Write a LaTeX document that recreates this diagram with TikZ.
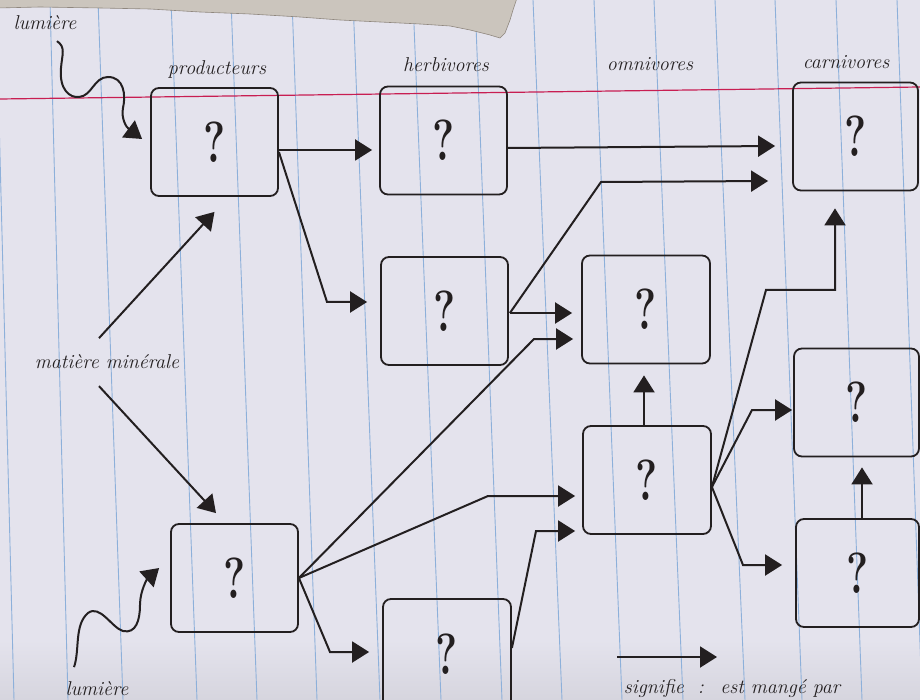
\documentclass[tikz,border=0pt]{standalone}
\usepackage{graphicx}
\usetikzlibrary{arrows.meta,calc}
\definecolor{paper}{HTML}{E4E3ED}
\definecolor{papershade}{HTML}{D6D5DE}
\definecolor{ink}{HTML}{231F20}
\definecolor{rulecol}{HTML}{8DB0DA}
\definecolor{margincol}{HTML}{C81E52}
\definecolor{torn}{HTML}{CBC5BD}
\definecolor{tornedge}{HTML}{8F877E}
\newcommand\qmark{\scalebox{0.72}[1]{\fontsize{58}{58}\selectfont\bfseries ?}}
\begin{document}
\begin{tikzpicture}[x=1pt,y=-1pt,
  box/.style={draw=ink, line width=1.8pt, rounded corners=8pt, minimum width=127pt,
    minimum height=108pt, inner sep=0pt, text=ink},
  arr/.style={draw=ink, line width=2pt, -{Triangle[length=17pt,width=21pt]}},
  lbl/.style={font=\fontsize{20}{24}\selectfont\itshape, text=ink, inner sep=0pt, anchor=base},
  rulestyle/.style={draw=rulecol, line width=0.9pt}]
\useasboundingbox (0,0) rectangle (920,700);
\clip (0,0) rectangle (920,700);
% paper
\fill[paper] (0,0) rectangle (920,700);
\shade[top color=paper, bottom color=papershade] (0,640) rectangle (920,700);
\foreach \a/\b in {-4/14,50/68,98/123,171/197,231/257,292/317,353/380,413/441,475/502,533/562,594/622,654/683,715/745,775/802,836/862,897/922}
  \draw[rulestyle] (\a,0) -- (\b,700);
\draw[margincol, line width=1.2pt] (0,99) -- (920,87);
% torn paper
\fill[torn, draw=tornedge, line width=0.6pt] (-2,-2) -- (-2,8) -- (40,7) -- (100,8) -- (150,9) -- (200,12) -- (250,14)
  -- (300,17) -- (340,20) -- (380,22) -- (420,24) -- (450,26) -- (470,30) -- (490,35) -- (500,38)
  -- (505,33) -- (510,20) -- (513,10) -- (517,-2) -- cycle;

% labels
\node[lbl] (lum1) at (45,30) {lumière};
\node[lbl] (prod) at (217,75) {producteurs};
\node[lbl] (herb) at (446,72) {herbivores};
\node[lbl] (omni) at (650,71) {omnivores};
\node[lbl] (carn) at (846,69) {carnivores};
\node[lbl] (mm) at (107,368) {matière minérale};
\node[lbl] (lum2) at (97,695) {lumière};
\node[lbl] (leg) at (732,693) {signifie \ : \ est mangé par};

% boxes
\node[box] (p1) at (214.5,142) {\qmark};
\node[box] (h1) at (443.5,140.5) {\qmark};
\node[box, minimum width=125pt] (c1) at (855.5,136.5) {\qmark};
\node[box] (h2) at (444.5,311) {\qmark};
\node[box, minimum width=128pt] (o1) at (646,309.5) {\qmark};
\node[box, minimum width=128pt] (o2) at (647,480) {\qmark};
\node[box, minimum width=125pt] (c2) at (856.5,402.5) {\qmark};
\node[box, minimum width=123pt] (c3) at (857.5,573) {\qmark};
\node[box] (p2) at (234.5,578) {\qmark};
\node[box, minimum width=128pt, minimum height=111pt] (h3) at (447,654.5) {\qmark};

% connectors
\draw[arr] ($(p1.east)+(0,8)$) -- ($(h1.west)+(-7,9.5)$);
\draw[arr] ($(p1.east)+(0,10)$) -- (327,302) -- ($(h2.west)+(-13,-9)$);
\draw[arr] ($(h1.east)+(0,7.5)$) -- ($(c1.west)+(-17,9.5)$);
\draw[arr] ($(h2.east)+(1,2)$) -- (601,182) -- ($(c1.west)+(-24,44.5)$);
\draw[arr] ($(h2.east)+(1,2)$) -- ($(o1.west)+(-9,3.5)$);
\draw[arr] (p2.east) -- (534,339) -- ($(o1.west)+(-8,29.5)$);
\draw[arr] (p2.east) -- (488,496) -- ($(o2.west)+(-7,16)$);
\draw[arr] (p2.east) -- (330,652) -- ($(h3.west)+(-13,-2.5)$);
\draw[arr] ($(h3.east)+(0,-6.5)$) -- (536,531) -- ($(o2.west)+(-7,51)$);
\draw[arr] ($(o2.north)+(-3,0)$) -- ($(o1.south)+(-2,11)$);
\draw[arr] ($(o2.east)+(0,7)$) -- (766,290) -- (835,290) -- ($(c1.south)+(-20.5,17)$);
\draw[arr] ($(o2.east)+(0,7)$) -- (752,410) -- ($(c2.west)+(-1,7.5)$);
\draw[arr] ($(o2.east)+(0,7)$) -- (743,565) -- ($(c3.west)+(-13,-8)$);
\draw[arr] ($(c3.north)+(4.5,0)$) -- ($(c2.south)+(5.5,10)$);
\draw[arr] ($(mm.center)+(-8,-23)$) -- ($(p1.south)+(0,15)$);
\draw[arr] ($(mm.center)+(-8,25)$) -- ($(p2.north)+(-18.5,-10)$);

% light (wavy) arrows
\draw[arr] ($(lum1.center)+(12,18)$) .. controls (66,47) and (62,55) .. (61,68)
  .. controls (59,90) and (70,98) .. (79,97)
  .. controls (92,96) and (94,77) .. (108,77)
  .. controls (124,77) and (126,95) .. (123,108)
  .. controls (121,118) and (126,127) .. ($(p1.west)+(-8,-3)$);
\draw[arr] ($(lum2.center)+(-23,-21)$) .. controls (80,650) and (74,625) .. (88,613)
  .. controls (100,604) and (112,628) .. (123,631)
  .. controls (136,634) and (140,620) .. (140,605)
  .. controls (140,590) and (148,578) .. ($(p2.west)+(-11,-10)$);

% legend
\coordinate (lgA) at (617,657);
\coordinate (lgB) at (717,657);
\draw[arr] (lgA) -- (lgB);
\end{tikzpicture}
\end{document}
